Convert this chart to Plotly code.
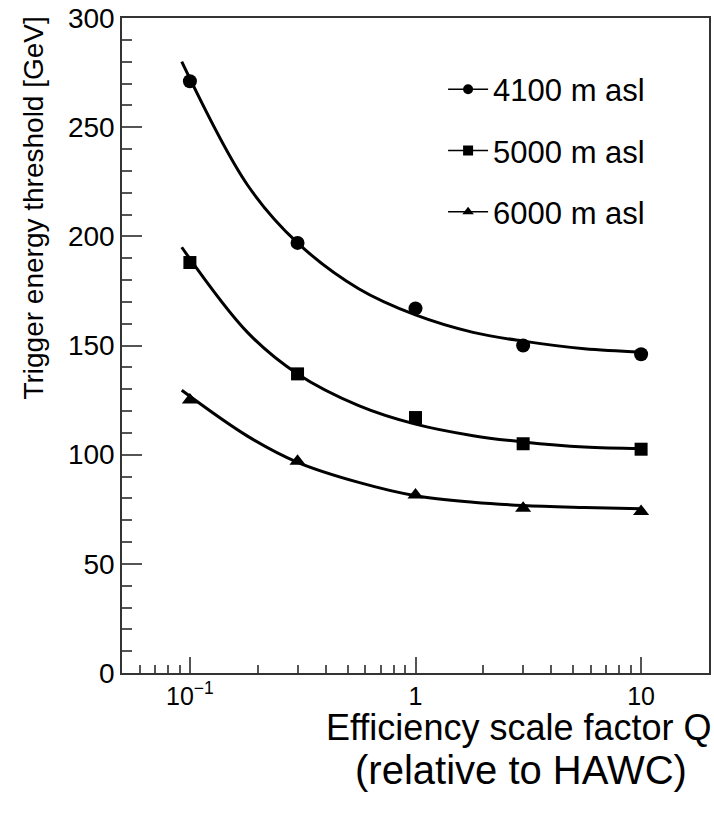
import plotly.graph_objects as go

# ---- data ----
Q = [0.1, 0.3, 1, 3, 10]
E4100 = [271, 197, 167, 150, 146]
E5000 = [188, 137, 117, 105, 102.5]
E6000 = [125, 97, 81.5, 75.5, 74]

# fitted curves, values
Q_fit = [0.092, 0.18, 0.3, 0.56, 1, 1.8, 3, 5.6, 10]
F4100 = [280, 223.5, 197, 176, 164, 156, 152, 148.5, 147]
F5000 = [195, 156, 137, 122.5, 114, 108.7, 105.8, 103.5, 102.8]
F6000 = [129.5, 108.5, 96.5, 87.3, 81.2, 78.2, 76.7, 75.8, 75.2]

labels = ["4100 m asl", "5000 m asl", "6000 m asl"]
symbols = ["circle", "square", "triangle-up"]
msizes = [14, 13, 14]

x_tickvals = [0.1, 1, 10]
x_ticktext = ["10<sup>\u22121</sup>", "1", "10"]
x_minor = [0.06, 0.07, 0.08, 0.09, 0.2, 0.3, 0.4, 0.5, 0.6, 0.7, 0.8, 0.9,
           2, 3, 4, 5, 6, 7, 8, 9]

FONT = "Liberation Sans, Arial, Helvetica, sans-serif"

fig = go.Figure()
for fy, py, lab, sym, ms in zip([F4100, F5000, F6000], [E4100, E5000, E6000],
                                labels, symbols, msizes):
    fig.add_trace(go.Scatter(x=Q_fit, y=fy, mode="lines",
                             line=dict(color="black", width=3, shape="spline", smoothing=1),
                             showlegend=False, hoverinfo="skip"))
    fig.add_trace(go.Scatter(x=Q, y=py, mode="markers",
                             marker=dict(symbol=sym, size=ms, color="black"),
                             showlegend=False))
    # legend entry (line + marker)
    fig.add_trace(go.Scatter(x=[None], y=[None], mode="lines+markers", name=lab,
                             line=dict(color="black", width=1.5),
                             marker=dict(symbol=sym, size=10, color="black"),
                             legendgroup=lab))

axis_common = dict(showline=True, linecolor="#333333", linewidth=1.5, mirror=True,
                   showgrid=False, zeroline=False, ticks="inside", tickcolor="#555555",
                   tickwidth=1.5)

fig.update_xaxes(type="log", range=[-1.301, 1.301], tickvals=x_tickvals,
                 ticktext=x_ticktext, ticklen=16,
                 tickfont=dict(family=FONT, size=25, color="black"),
                 minor=dict(tickvals=x_minor, ticks="inside", ticklen=8,
                            tickcolor="#555555", tickwidth=1.5),
                 **axis_common)
fig.update_yaxes(range=[0, 300], dtick=50, ticklen=20,
                 tickfont=dict(family=FONT, size=28, color="black"),
                 minor=dict(dtick=10, ticks="inside", ticklen=10,
                            tickcolor="#555555", tickwidth=1.5),
                 **axis_common)

fig.update_layout(
    width=714, height=817,
    margin=dict(l=122, r=3, t=18, b=144),
    paper_bgcolor="white", plot_bgcolor="white",
    font=dict(family=FONT, color="black"),
    legend=dict(x=0.547, y=0.932, xanchor="left", yanchor="top",
                bgcolor="rgba(0,0,0,0)", borderwidth=0,
                font=dict(family=FONT, size=31, color="black"),
                tracegroupgap=18, itemwidth=40),
    annotations=[
        dict(text="Trigger energy threshold [GeV]", textangle=-90,
             xref="paper", yref="paper", x=-0.151, y=1.005,
             xanchor="center", yanchor="top", showarrow=False,
             font=dict(family=FONT, size=28, color="black")),
        dict(text="Efficiency scale factor Q",
             xref="paper", yref="paper", x=1.008, y=-0.049,
             xanchor="right", yanchor="top", showarrow=False,
             font=dict(family=FONT, size=36, color="black")),
        dict(text="(relative to HAWC)",
             xref="paper", yref="paper", x=0.679, y=-0.112,
             xanchor="center", yanchor="top", showarrow=False,
             font=dict(family=FONT, size=40, color="black")),
    ],
)

fig.write_html("out.html")
